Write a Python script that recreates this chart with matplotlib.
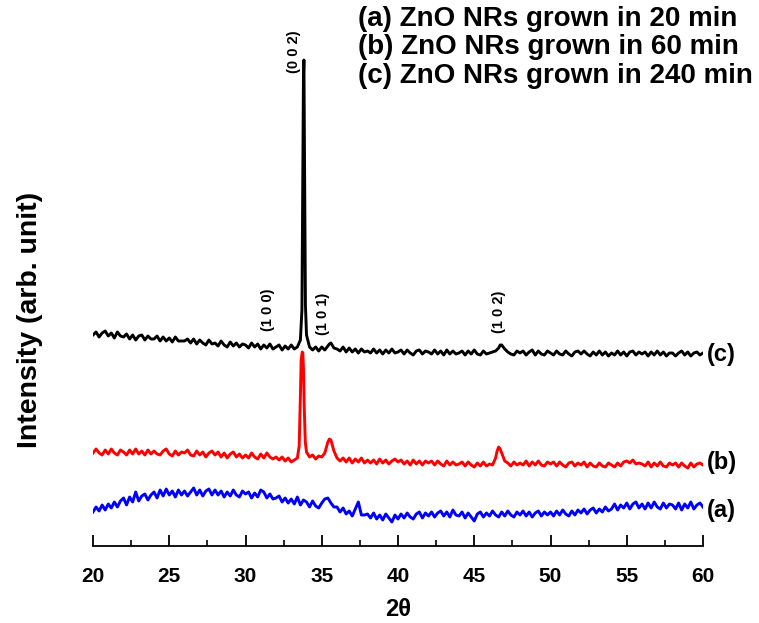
import numpy as np
import matplotlib
matplotlib.use("Agg")
import matplotlib.pyplot as plt

# scan grid (2theta, 0.2 deg step)
two_theta = np.round(np.arange(20.0, 60.001, 0.2), 1)

# (c) ZnO NRs grown in 240 min -- black
int_c = [
    211, 214, 209, 213, 215, 210, 213, 208, 214, 210,
    209, 212, 207, 211, 206, 210, 211, 206, 210, 207,
    207, 210, 205, 209, 205, 208, 204, 209, 205, 205,
    205, 207, 203, 207, 202, 206, 203, 201, 206, 202,
    203, 200, 205, 201, 199, 204, 200, 203, 199, 202,
    201, 198, 203, 199, 202, 197, 201, 198, 202, 197,
    199, 201, 196, 200, 197, 201, 197, 199, 206, 470,
    211, 199, 196, 199, 195, 199, 196, 200, 203, 198,
    197, 195, 199, 194, 198, 194, 197, 193, 197, 194,
    195, 193, 197, 193, 196, 192, 196, 193, 197, 193,
    194, 196, 192, 196, 193, 191, 195, 196, 192, 195,
    194, 192, 196, 192, 195, 191, 196, 192, 195, 192,
    193, 195, 191, 195, 192, 196, 192, 191, 195, 192,
    193, 194, 195, 198, 201, 197, 194, 192, 191, 195,
    193, 195, 191, 194, 196, 191, 195, 192, 191, 195,
    193, 191, 195, 192, 191, 195, 192, 190, 194, 195,
    192, 195, 192, 190, 194, 191, 195, 191, 194, 190,
    193, 191, 195, 191, 194, 190, 194, 195, 191, 194,
    192, 194, 190, 194, 191, 195, 191, 194, 190, 193,
    193, 190, 193, 195, 191, 194, 190, 193, 194, 191,
    193,
]
# extra points across the sharp (002), (101), (102) reflections of (c)
pk_c_x = [33.70, 33.75, 33.83, 33.88, 33.93, 35.5, 46.7]
pk_c_y = [236, 346, 486, 361, 241, 202, 201]

# (b) ZnO NRs grown in 60 min -- red
int_b = [
    93, 97, 93, 91, 96, 92, 97, 93, 91, 96,
    94, 91, 96, 92, 97, 92, 95, 91, 96, 92,
    95, 92, 91, 95, 97, 92, 90, 95, 91, 94,
    93, 96, 91, 90, 95, 91, 94, 89, 93, 95,
    91, 94, 89, 93, 88, 92, 94, 89, 92, 88,
    91, 88, 93, 89, 87, 92, 88, 93, 89, 87,
    89, 86, 89, 85, 88, 84, 86, 88, 150, 178,
    94, 89, 91, 87, 90, 89, 93, 104, 106, 95,
    88, 85, 88, 84, 88, 83, 87, 84, 88, 83,
    86, 83, 86, 82, 87, 83, 86, 82, 85, 87,
    84, 86, 82, 85, 81, 86, 82, 85, 81, 85,
    83, 85, 81, 85, 82, 80, 85, 81, 84, 81,
    82, 84, 80, 84, 81, 79, 83, 80, 84, 80,
    82, 81, 88, 99, 93, 85, 83, 80, 84, 81,
    83, 81, 85, 80, 84, 81, 85, 81, 80, 84,
    82, 84, 80, 84, 81, 79, 83, 84, 80, 83,
    81, 84, 79, 83, 80, 79, 83, 80, 79, 83,
    81, 79, 83, 80, 84, 85, 83, 86, 82, 83,
    82, 80, 84, 79, 83, 80, 84, 80, 79, 83,
    81, 83, 79, 83, 80, 78, 83, 79, 82, 83,
    81,
]
pk_b_x = [33.52, 33.56, 33.65, 33.72, 33.76, 33.85, 33.92, 35.5, 46.5, 46.7]
pk_b_y = [100, 125, 186, 194, 193, 140, 104, 107, 95, 97]

# (a) ZnO NRs grown in 20 min -- blue
int_a = [
    34, 39, 35, 41, 36, 42, 38, 44, 39, 45,
    48, 41, 49, 44, 54, 45, 50, 52, 46, 51,
    54, 48, 56, 50, 57, 51, 55, 49, 56, 51,
    55, 50, 54, 58, 51, 56, 50, 55, 57, 51,
    56, 51, 55, 49, 54, 50, 56, 51, 49, 55,
    52, 54, 48, 53, 49, 56, 54, 48, 52, 47,
    48, 50, 44, 48, 43, 47, 42, 49, 41, 46,
    44, 39, 45, 40, 38, 43, 47, 48, 43, 39,
    39, 34, 38, 32, 35, 30, 37, 44, 31, 31,
    32, 28, 33, 27, 31, 26, 32, 28, 24, 31,
    27, 32, 28, 33, 29, 27, 32, 34, 28, 33,
    30, 34, 29, 33, 35, 30, 34, 29, 36, 31,
    30, 34, 28, 33, 29, 25, 32, 34, 29, 33,
    30, 35, 31, 29, 34, 30, 35, 31, 29, 34,
    31, 35, 30, 34, 29, 33, 35, 30, 34, 31,
    34, 30, 35, 31, 36, 32, 30, 35, 31, 36,
    33, 37, 32, 36, 38, 33, 37, 34, 39, 35,
    37, 42, 36, 41, 38, 43, 37, 42, 44, 38,
    42, 37, 43, 38, 44, 39, 37, 43, 38, 42,
    41, 37, 43, 36, 42, 38, 44, 37, 41, 43,
    39,
]

series = [
    ("(c)", int_c, pk_c_x, pk_c_y, "black", 355),
    ("(b)", int_b, pk_b_x, pk_b_y, "red", 462),
    ("(a)", int_a, [], [], "blue", 510),
]

legend_lines = [
    "(a) ZnO NRs grown in 20 min",
    "(b) ZnO NRs grown in 60 min",
    "(c) ZnO NRs grown in 240 min",
]

# reflection labels: (text, 2theta, intensity)
hkl_labels = [
    ("(0 0 2)", 33.2, 494),
    ("(1 0 0)", 31.5, 236),
    ("(1 0 1)", 35.1, 232),
    ("(1 0 2)", 46.6, 234),
]

plt.rcParams['font.family'] = ['Liberation Sans', 'DejaVu Sans']
plt.rcParams['font.weight'] = 'bold'

fig = plt.figure(figsize=(7.59, 6.23), dpi=100)
ax = fig.add_axes([93 / 759, 1 - 546 / 623, 610 / 759, 546 / 623])

for label, vals, px, py, color, ylab in series:
    x = np.concatenate([two_theta, px])
    y = np.concatenate([np.asarray(vals, float), np.asarray(py, float)])
    order = np.argsort(x, kind="stable")
    ax.plot(x[order], y[order], color=color, lw=2.1)
    fig.text(707 / 759, 1 - ylab / 623, label, fontsize=17, fontweight='bold',
             ha='left', va='center')

for txt, xt, yt in hkl_labels:
    ax.text(xt, yt, txt, rotation=90, fontsize=10.5, fontweight='bold',
            ha='center', va='center')

for i, line in enumerate(legend_lines):
    fig.text(358 / 759, 1 - (19 + 28.5 * i) / 623, line, fontsize=20,
             fontweight='bold', ha='left', va='center')

ax.set_xlim(20, 60)
ax.set_ylim(0, 546)
for side in ('top', 'right', 'left'):
    ax.spines[side].set_visible(False)
ax.spines['bottom'].set_linewidth(1.3)
ax.set_yticks([])
ax.set_xticks(np.arange(20, 61, 5))
ax.set_xticks(np.arange(20, 61, 2.5), minor=True)
ax.tick_params(axis='x', which='major', direction='in', length=8, width=1.3,
               labelsize=15, pad=15)
ax.tick_params(axis='x', which='minor', direction='in', length=4, width=1.2)
for lab in ax.get_xticklabels():
    lab.set_fontweight('bold')

fig.text(30 / 759, 1 - 320 / 623, "Intensity (arb. unit)", rotation=90,
         fontsize=20.5, fontweight='bold', ha='center', va='center')
fig.text(398 / 759, 1 - 609 / 623, "2θ", fontsize=17, fontweight='bold',
         ha='center', va='center')

fig.savefig("out.png", dpi=100)
